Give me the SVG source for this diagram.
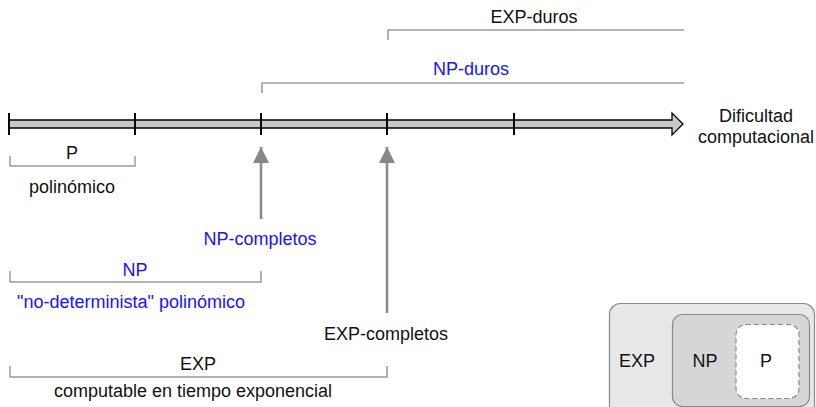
<svg xmlns="http://www.w3.org/2000/svg" width="816" height="407" viewBox="0 0 816 407">
<defs>
<style>
text{font-family:"Liberation Sans",Arial,Helvetica,sans-serif;font-size:18px;fill:#111;text-anchor:middle}
.blue{fill:#1414ff}
.br{fill:none;stroke:#9a9a9a;stroke-width:1.5}
.tick{stroke:#000;stroke-width:2}
.arr{stroke:#888;stroke-width:2.5;fill:none}
</style>
<marker id="ah" viewBox="0 0 16 16" refX="16" refY="8" markerWidth="16" markerHeight="16" markerUnits="userSpaceOnUse" orient="auto">
<path d="M0,0 L16,8 L0,16 Z" fill="#888"/>
</marker>
</defs>
<rect width="816" height="407" fill="#fff"/>
<g id="axis">
<path d="M9,120 H672 V113 L683,124 L672,135 V128 H9 Z" fill="#c8c8c8" stroke="#000" stroke-width="1.3"/>
<line class="tick" x1="9" y1="113" x2="9" y2="135"/>
<line class="tick" x1="135" y1="113" x2="135" y2="135"/>
<line class="tick" x1="261" y1="113" x2="261" y2="135"/>
<line class="tick" x1="387" y1="113" x2="387" y2="135"/>
<line class="tick" x1="514" y1="113" x2="514" y2="135"/>
<text x="756" y="122">Dificultad</text>
<text x="756" y="143">computacional</text>
</g>
<g id="connectors">
<line class="arr" x1="261" y1="219" x2="261" y2="147" marker-end="url(#ah)"/>
<line class="arr" x1="387" y1="313" x2="387" y2="147" marker-end="url(#ah)"/>
</g>
<g id="exp-duros">
<path class="br" d="M388,40 V30 H684"/>
<text x="534" y="23">EXP-duros</text>
</g>
<g id="np-duros">
<path class="br" d="M262,93 V83 H684"/>
<text class="blue" x="471" y="75">NP-duros</text>
</g>
<g id="p">
<path class="br" d="M10,156 V166 H135 V156"/>
<text x="72" y="159">P</text>
<text x="72" y="193">polinómico</text>
</g>
<g id="np-completos">
<text class="blue" x="260" y="245">NP-completos</text>
</g>
<g id="np">
<path class="br" d="M10,271 V282 H261 V271"/>
<text class="blue" x="135" y="276">NP</text>
<text class="blue" x="131" y="308">"no-determinista" polinómico</text>
</g>
<g id="exp-completos">
<text x="386" y="340">EXP-completos</text>
</g>
<g id="exp">
<path class="br" d="M10,366 V377 H387 V366"/>
<text x="198" y="370">EXP</text>
<text x="193" y="397">computable en tiempo exponencial</text>
</g>
<g id="venn">
<rect x="609.5" y="303.5" width="205" height="115" rx="11" fill="#e8e8e8" stroke="#8a8a8a" stroke-width="1.2"/>
<rect x="672.5" y="314.5" width="137" height="92" rx="10" fill="#d6d6d6" stroke="#8a8a8a" stroke-width="1.2"/>
<rect x="736" y="324.5" width="63" height="74" rx="10" fill="#fff" stroke="#8a8a8a" stroke-width="1.2" stroke-dasharray="5,3"/>
<text x="637" y="367">EXP</text>
<text x="705" y="367">NP</text>
<text x="766" y="367">P</text>
</g>
</svg>
